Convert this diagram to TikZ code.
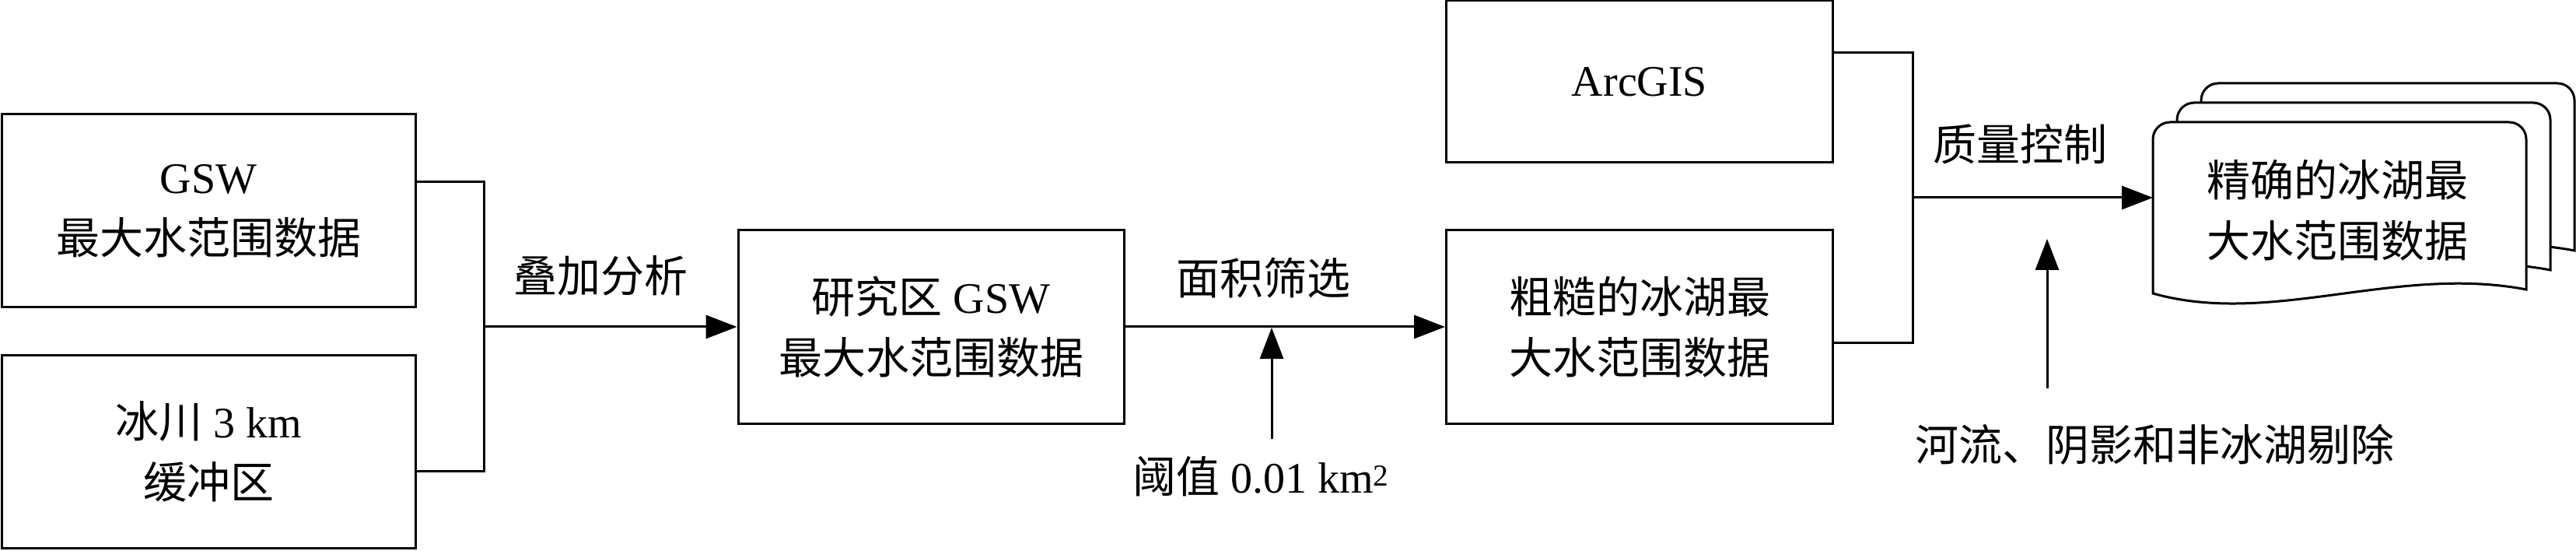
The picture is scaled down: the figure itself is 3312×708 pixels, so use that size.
\documentclass[tikz,border=0pt]{standalone}
\usepackage{fontspec}
\setmainfont{Liberation Serif}
\newfontfamily\cjk{Noto Sans CJK SC}
\usetikzlibrary{arrows.meta}
\newcommand\zh[1]{{\cjk #1}}
\begin{document}
\begin{tikzpicture}[x=1pt,y=-1pt,
  box/.style={draw,line width=3pt,rectangle,align=center,inner sep=0pt,
    font=\fontsize{56}{78}\selectfont},
  lab/.style={inner sep=0pt,font=\fontsize{56}{78}\selectfont},
  ln/.style={line width=3pt},
  arr/.style={line width=3pt,-{Triangle[length=40pt,width=30pt]}},
  doc/.style={draw,line width=3pt,fill=white,rounded corners=22pt}]
\useasboundingbox (0,0) rectangle (3312,708);
\node[box,minimum width=532,minimum height=248] (b1) at (268,271) {GSW\\\zh{最大水范围数据}};
\node[box,minimum width=532,minimum height=248] (b2) at (268,580) {\zh{冰川} 3 km\\\zh{缓冲区}};
\node[box,minimum width=496,minimum height=248] (b3) at (1197,420) {\zh{研究区} GSW\\\zh{最大水范围数据}};
\node[box,minimum width=497,minimum height=248] (b4) at (2108,420) {\zh{粗糙的冰湖最}\\\zh{大水范围数据}};
\node[box,minimum width=497,minimum height=208] (arc) at (2108,105) {ArcGIS};
% document stack
\foreach \dx/\dy in {62/-50,31/-25,0/0}{
  \draw[doc,shift={(\dx,\dy)}] (2768,377) -- (2768,157) -- (3248,157) [sharp corners]-- (3248,372)
    .. controls (3080,340) and (2920,420) .. (2768,377) -- cycle;
}
\node[lab,align=left] (d) at (3005,270) {\zh{精确的冰湖最}\\\zh{大水范围数据}};
\coordinate (dw) at (2768,254);
% left junction
\coordinate (j1) at (622,234);
\coordinate (j2) at (622,605);
\coordinate (j0) at (622,420);
\draw[ln] (b1.east |- j1) -- (j1) -- (j2) -- (b2.east |- j2);
\draw[arr] (j0) -- (b3.west);
\node[lab] (l1) at (772,354) {\zh{叠加分析}};
% middle
\draw[arr] (b3.east) -- (b4.west);
\node[lab] (l2) at (1624,357) {\zh{面积筛选}};
\node[lab] (t1) at (1621,612) {\zh{阈值} 0.01 km\textsuperscript{2}};
\coordinate (u1a) at (1635,564);
\coordinate (u1b) at (1635,421);
\draw[arr] (u1a) -- (u1b);
% right junction
\coordinate (k1) at (2459,68);
\coordinate (k2) at (2459,440);
\coordinate (k0) at (2459,254);
\draw[ln] (arc.east |- k1) -- (k1) -- (k2) -- (b4.east |- k2);
\draw[arr] (k0) -- (dw);
\node[lab] (l3) at (2597,185) {\zh{质量控制}};
\node[lab] (t2) at (2770,571) {\zh{河流、阴影和非冰湖剔除}};
\coordinate (u2a) at (2632,499);
\coordinate (u2b) at (2632,307);
\draw[arr] (u2a) -- (u2b);
\end{tikzpicture}
\end{document}
